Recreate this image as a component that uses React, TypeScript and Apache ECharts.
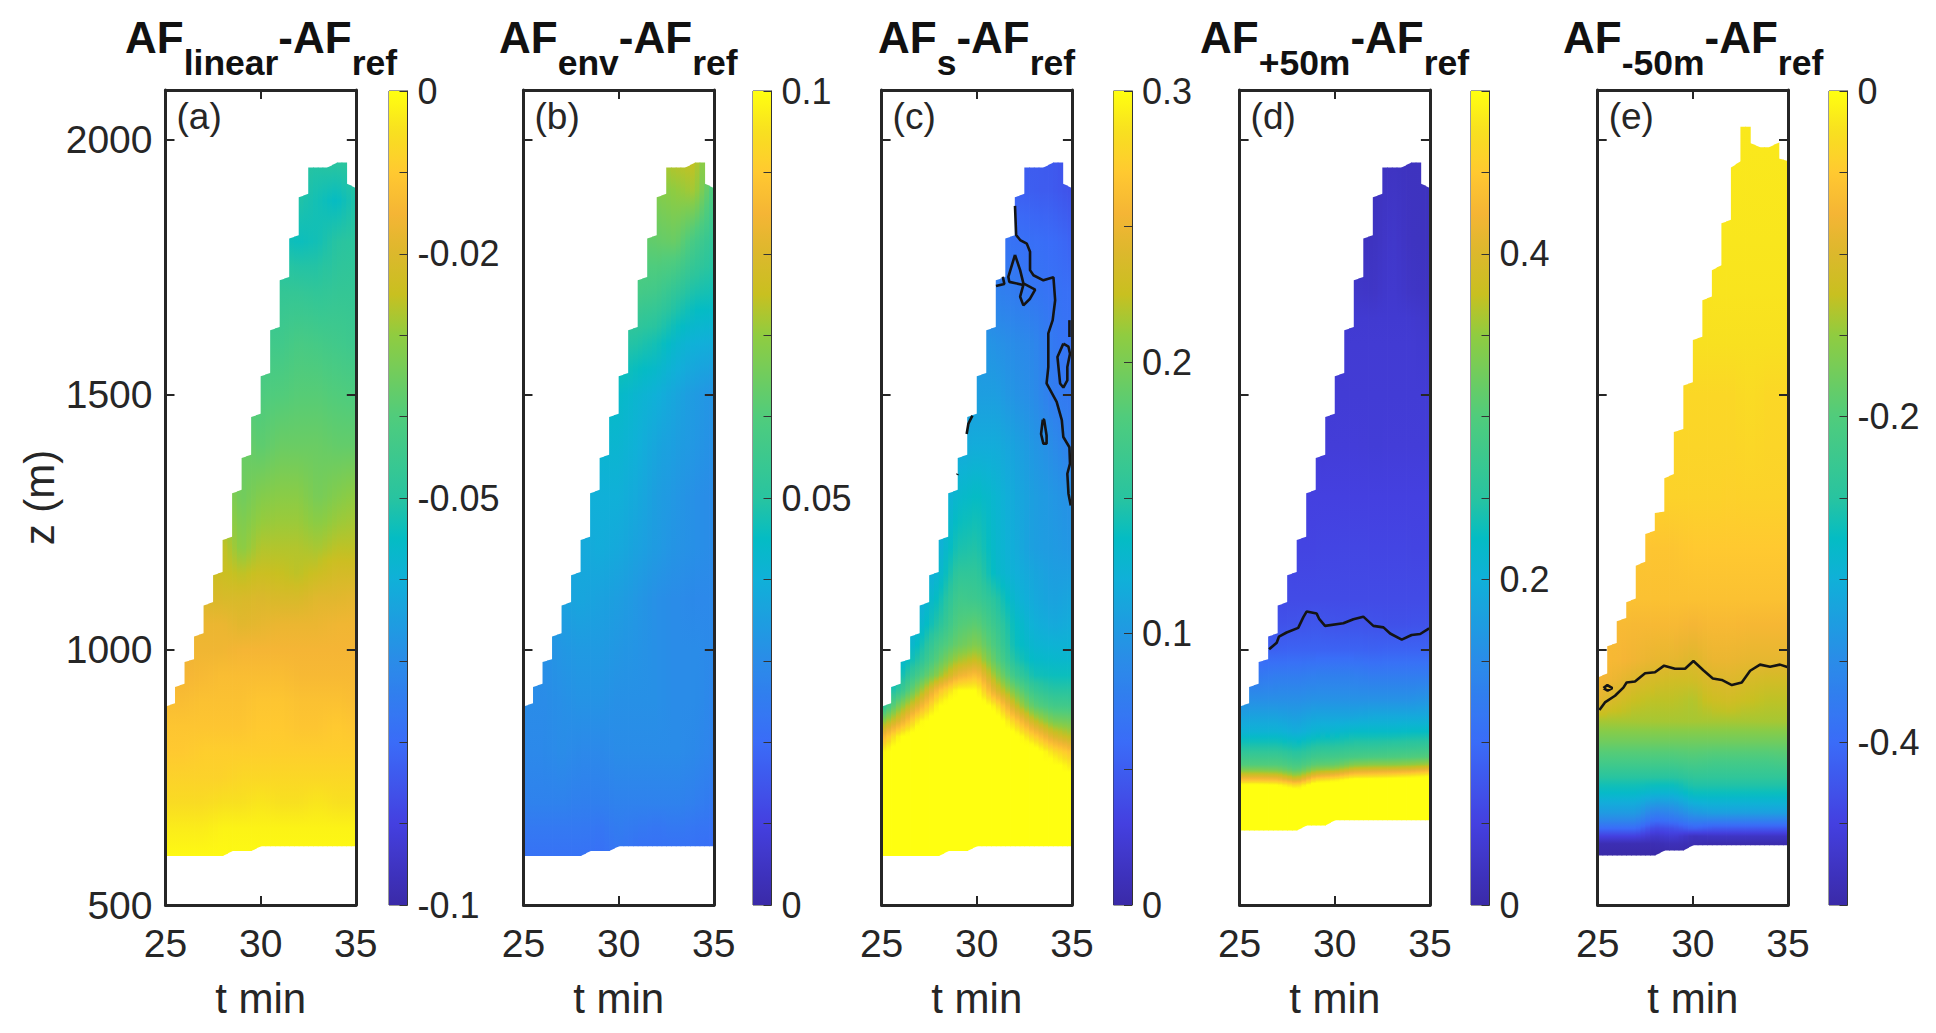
import React, { useEffect, useRef } from "react";
import * as echarts from "echarts";

const T_COLS = [25, 26, 27, 28, 29, 30, 31, 32, 33, 34, 35];
const X_TICKS = [25, 30, 35];
const Y_TICKS = [500, 1000, 1500, 2000];

// ---- top and bottom edges of the sampled region (half-minute columns)
const TOP_L_ABC = [889, 927, 976, 1026, 1087, 1146, 1215, 1307, 1376, 1456, 1536, 1626, 1724, 1806, 1887, 1945, 1945, 1945, 1955, 1914];
const TOP_R_ABC = [896, 934, 982, 1033, 1094, 1153, 1222, 1314, 1383, 1463, 1543, 1633, 1731, 1813, 1894, 1945, 1945, 1955, 1955, 1905];
const TOP_L_E = [946, 1007, 1056, 1093, 1165, 1227, 1268, 1336, 1427, 1518, 1607, 1685, 1744, 1836, 1945, 2025, 1993, 1985, 1985, 1963];
const TOP_R_E = [954, 1014, 1063, 1101, 1173, 1234, 1271, 1345, 1433, 1525, 1614, 1693, 1754, 1843, 1958, 2025, 1985, 1985, 1994, 1958];
const BOT_ABC = [596, 596, 596, 596, 596, 596, 596, 606, 606, 606, 615, 615, 615, 615, 615, 615, 615, 615, 615, 615, 615];
const BOT_D = [646, 646, 646, 646, 646, 646, 646, 656, 656, 656, 666, 666, 666, 666, 666, 666, 666, 666, 666, 666, 666];
const BOT_E = [597, 597, 597, 597, 597, 597, 597, 607, 607, 607, 617, 617, 617, 617, 617, 617, 617, 617, 617, 617, 617];

// ---- panel (a)
const Z_A = [596, 650, 700, 750, 800, 850, 900, 950, 1000, 1050, 1100, 1150, 1200, 1300, 1400, 1500, 1600, 1700, 1800, 1880, 1960];
const V_A = [
  [-0.001, -0.001, -0.001, -0.001, -0.001, -0.001, -0.001, -0.001, -0.001, -0.001, -0.001],
  [-0.003, -0.003, -0.003, -0.002, -0.002, -0.002, -0.002, -0.002, -0.002, -0.002, -0.002],
  [-0.006, -0.006, -0.006, -0.005, -0.005, -0.004, -0.005, -0.005, -0.004, -0.005, -0.005],
  [-0.008, -0.008, -0.008, -0.008, -0.007, -0.007, -0.007, -0.007, -0.007, -0.007, -0.007],
  [-0.01, -0.01, -0.009, -0.009, -0.009, -0.009, -0.009, -0.009, -0.009, -0.009, -0.009],
  [-0.011, -0.011, -0.011, -0.011, -0.011, -0.01, -0.01, -0.011, -0.011, -0.01, -0.011],
  [-0.013, -0.013, -0.012, -0.012, -0.012, -0.011, -0.011, -0.012, -0.012, -0.012, -0.013],
  [-0.015, -0.015, -0.014, -0.013, -0.013, -0.013, -0.013, -0.014, -0.014, -0.014, -0.014],
  [-0.016, -0.016, -0.016, -0.016, -0.015, -0.015, -0.015, -0.015, -0.015, -0.015, -0.015],
  [-0.017, -0.017, -0.017, -0.017, -0.019, -0.018, -0.017, -0.017, -0.017, -0.016, -0.016],
  [-0.02, -0.02, -0.02, -0.021, -0.021, -0.02, -0.021, -0.021, -0.019, -0.019, -0.018],
  [-0.024, -0.024, -0.024, -0.024, -0.026, -0.024, -0.025, -0.026, -0.024, -0.022, -0.022],
  [-0.027, -0.027, -0.026, -0.025, -0.031, -0.027, -0.027, -0.027, -0.028, -0.026, -0.026],
  [-0.03, -0.03, -0.03, -0.03, -0.035, -0.032, -0.031, -0.031, -0.034, -0.032, -0.03],
  [-0.036, -0.036, -0.036, -0.036, -0.036, -0.038, -0.036, -0.036, -0.036, -0.037, -0.037],
  [-0.04, -0.04, -0.04, -0.04, -0.04, -0.041, -0.04, -0.039, -0.039, -0.04, -0.041],
  [-0.044, -0.044, -0.044, -0.044, -0.044, -0.044, -0.044, -0.042, -0.043, -0.044, -0.045],
  [-0.047, -0.047, -0.047, -0.047, -0.047, -0.047, -0.047, -0.047, -0.048, -0.047, -0.047],
  [-0.05, -0.05, -0.05, -0.05, -0.05, -0.05, -0.053, -0.054, -0.053, -0.05, -0.049],
  [-0.051, -0.051, -0.051, -0.051, -0.051, -0.051, -0.051, -0.051, -0.053, -0.055, -0.051],
  [-0.05, -0.05, -0.05, -0.05, -0.05, -0.05, -0.05, -0.05, -0.05, -0.049, -0.049],
];

// ---- panel (b)
const Z_B = [596, 650, 700, 800, 900, 1000, 1100, 1200, 1300, 1400, 1500, 1600, 1700, 1800, 1900, 1960];
const V_B = [
  [0.022, 0.022, 0.022, 0.022, 0.021, 0.023, 0.021, 0.021, 0.021, 0.021, 0.02],
  [0.024, 0.024, 0.024, 0.024, 0.023, 0.025, 0.024, 0.023, 0.024, 0.023, 0.022],
  [0.027, 0.027, 0.027, 0.026, 0.026, 0.027, 0.027, 0.027, 0.027, 0.026, 0.024],
  [0.029, 0.029, 0.03, 0.029, 0.029, 0.03, 0.03, 0.03, 0.03, 0.029, 0.027],
  [0.03, 0.03, 0.031, 0.032, 0.032, 0.031, 0.031, 0.031, 0.03, 0.03, 0.028],
  [0.031, 0.031, 0.033, 0.034, 0.034, 0.033, 0.032, 0.031, 0.03, 0.03, 0.029],
  [0.033, 0.033, 0.036, 0.037, 0.036, 0.035, 0.033, 0.031, 0.03, 0.029, 0.029],
  [0.036, 0.036, 0.037, 0.038, 0.039, 0.038, 0.036, 0.034, 0.032, 0.031, 0.03],
  [0.038, 0.038, 0.038, 0.04, 0.04, 0.04, 0.038, 0.035, 0.033, 0.031, 0.03],
  [0.042, 0.042, 0.042, 0.042, 0.042, 0.042, 0.04, 0.037, 0.035, 0.033, 0.031],
  [0.044, 0.044, 0.044, 0.044, 0.044, 0.044, 0.042, 0.04, 0.037, 0.034, 0.032],
  [0.048, 0.048, 0.048, 0.048, 0.049, 0.05, 0.049, 0.047, 0.043, 0.04, 0.039],
  [0.055, 0.055, 0.055, 0.055, 0.056, 0.056, 0.057, 0.056, 0.052, 0.048, 0.047],
  [0.06, 0.06, 0.06, 0.06, 0.06, 0.06, 0.062, 0.063, 0.064, 0.057, 0.052],
  [0.066, 0.066, 0.066, 0.066, 0.066, 0.066, 0.066, 0.068, 0.07, 0.072, 0.058],
  [0.07, 0.07, 0.07, 0.07, 0.07, 0.07, 0.07, 0.072, 0.074, 0.075, 0.06],
];

// ---- panel (c)
const Z_C = [596, 760, 800, 830, 860, 890, 920, 950, 980, 1010, 1050, 1100, 1150, 1200, 1300, 1400, 1500, 1600, 1700, 1800, 1900, 2000];
const V_C = [
  [0.32, 0.32, 0.32, 0.32, 0.32, 0.32, 0.32, 0.32, 0.32, 0.32, 0.32],
  [0.32, 0.32, 0.32, 0.32, 0.32, 0.32, 0.32, 0.32, 0.32, 0.32, 0.3],
  [0.295, 0.32, 0.32, 0.32, 0.32, 0.32, 0.32, 0.32, 0.315, 0.285, 0.265],
  [0.255, 0.3, 0.32, 0.32, 0.32, 0.32, 0.32, 0.31, 0.275, 0.24, 0.222],
  [0.205, 0.245, 0.295, 0.32, 0.32, 0.32, 0.32, 0.275, 0.228, 0.2, 0.195],
  [0.15, 0.205, 0.25, 0.3, 0.32, 0.32, 0.29, 0.23, 0.186, 0.17, 0.168],
  [0.126, 0.16, 0.21, 0.265, 0.3, 0.3, 0.24, 0.198, 0.162, 0.15, 0.15],
  [0.114, 0.138, 0.174, 0.21, 0.25, 0.265, 0.21, 0.165, 0.141, 0.138, 0.138],
  [0.108, 0.126, 0.15, 0.186, 0.216, 0.228, 0.186, 0.147, 0.132, 0.129, 0.129],
  [0.105, 0.114, 0.138, 0.171, 0.192, 0.204, 0.174, 0.138, 0.126, 0.123, 0.123],
  [0.102, 0.108, 0.126, 0.15, 0.18, 0.186, 0.162, 0.135, 0.12, 0.114, 0.117],
  [0.099, 0.105, 0.117, 0.138, 0.168, 0.165, 0.15, 0.126, 0.114, 0.108, 0.111],
  [0.099, 0.102, 0.111, 0.126, 0.156, 0.156, 0.132, 0.12, 0.111, 0.105, 0.105],
  [0.099, 0.102, 0.108, 0.12, 0.144, 0.147, 0.129, 0.117, 0.105, 0.102, 0.099],
  [0.099, 0.102, 0.105, 0.114, 0.129, 0.135, 0.126, 0.114, 0.105, 0.099, 0.093],
  [0.099, 0.102, 0.105, 0.108, 0.114, 0.117, 0.117, 0.108, 0.099, 0.09, 0.078],
  [0.099, 0.102, 0.105, 0.105, 0.105, 0.105, 0.105, 0.096, 0.09, 0.075, 0.072],
  [0.099, 0.099, 0.099, 0.099, 0.099, 0.099, 0.095, 0.09, 0.085, 0.072, 0.066],
  [0.085, 0.085, 0.085, 0.085, 0.085, 0.085, 0.08, 0.075, 0.07, 0.066, 0.063],
  [0.07, 0.07, 0.07, 0.07, 0.07, 0.07, 0.07, 0.065, 0.063, 0.06, 0.054],
  [0.052, 0.052, 0.052, 0.052, 0.052, 0.052, 0.052, 0.052, 0.05, 0.048, 0.042],
  [0.05, 0.05, 0.05, 0.05, 0.05, 0.05, 0.05, 0.05, 0.048, 0.046, 0.04],
];

// ---- panel (d)
const Z_D = [646, 725, 735, 745, 755, 765, 775, 790, 810, 840, 870, 900, 950, 1000, 1050, 1100, 1200, 1300, 1400, 1500, 1600, 1650, 1700, 1800, 2000];
const V_D = [
  [0.525, 0.525, 0.525, 0.525, 0.525, 0.525, 0.525, 0.525, 0.525, 0.525, 0.525],
  [0.525, 0.525, 0.525, 0.51, 0.525, 0.525, 0.525, 0.525, 0.525, 0.525, 0.525],
  [0.51, 0.51, 0.5, 0.465, 0.525, 0.525, 0.525, 0.525, 0.525, 0.525, 0.525],
  [0.44, 0.44, 0.435, 0.395, 0.47, 0.485, 0.515, 0.515, 0.52, 0.525, 0.525],
  [0.385, 0.385, 0.38, 0.345, 0.405, 0.42, 0.45, 0.455, 0.46, 0.47, 0.485],
  [0.335, 0.335, 0.33, 0.305, 0.35, 0.36, 0.39, 0.395, 0.4, 0.405, 0.42],
  [0.3, 0.3, 0.3, 0.285, 0.31, 0.315, 0.34, 0.345, 0.345, 0.35, 0.36],
  [0.275, 0.275, 0.275, 0.26, 0.28, 0.283, 0.29, 0.293, 0.295, 0.298, 0.303],
  [0.245, 0.245, 0.245, 0.235, 0.25, 0.253, 0.26, 0.26, 0.263, 0.265, 0.268],
  [0.205, 0.205, 0.205, 0.195, 0.21, 0.213, 0.22, 0.22, 0.22, 0.223, 0.225],
  [0.18, 0.18, 0.18, 0.175, 0.185, 0.185, 0.185, 0.19, 0.19, 0.19, 0.19],
  [0.155, 0.155, 0.155, 0.155, 0.16, 0.16, 0.16, 0.16, 0.16, 0.16, 0.165],
  [0.12, 0.12, 0.125, 0.125, 0.13, 0.13, 0.13, 0.125, 0.125, 0.125, 0.125],
  [0.088, 0.088, 0.088, 0.09, 0.09, 0.09, 0.09, 0.088, 0.09, 0.09, 0.09],
  [0.07, 0.07, 0.07, 0.072, 0.075, 0.072, 0.073, 0.071, 0.069, 0.07, 0.07],
  [0.062, 0.062, 0.062, 0.062, 0.062, 0.062, 0.062, 0.062, 0.062, 0.062, 0.062],
  [0.055, 0.055, 0.055, 0.055, 0.055, 0.056, 0.057, 0.056, 0.056, 0.055, 0.055],
  [0.05, 0.05, 0.05, 0.05, 0.05, 0.05, 0.05, 0.05, 0.05, 0.05, 0.05],
  [0.043, 0.043, 0.043, 0.043, 0.043, 0.043, 0.044, 0.042, 0.043, 0.043, 0.042],
  [0.04, 0.04, 0.04, 0.04, 0.04, 0.04, 0.04, 0.04, 0.04, 0.04, 0.04],
  [0.038, 0.038, 0.038, 0.038, 0.038, 0.038, 0.038, 0.038, 0.038, 0.038, 0.034],
  [0.037, 0.037, 0.037, 0.037, 0.037, 0.037, 0.037, 0.036, 0.037, 0.036, 0.028],
  [0.03, 0.03, 0.03, 0.03, 0.03, 0.03, 0.03, 0.027, 0.035, 0.027, 0.024],
  [0.021, 0.021, 0.021, 0.021, 0.021, 0.021, 0.021, 0.021, 0.032, 0.022, 0.021],
  [0.02, 0.02, 0.02, 0.02, 0.02, 0.02, 0.02, 0.02, 0.02, 0.02, 0.02],
];

// ---- panel (e)
const Z_E = [597, 620, 635, 650, 665, 680, 700, 720, 750, 780, 820, 860, 900, 940, 980, 1050, 1100, 1200, 1300, 1400, 1500, 1600, 1700, 1800, 2050];
const V_E = [
  [-0.5, -0.5, -0.5, -0.5, -0.5, -0.5, -0.5, -0.5, -0.5, -0.5, -0.5],
  [-0.49, -0.49, -0.49, -0.49, -0.485, -0.49, -0.495, -0.495, -0.495, -0.495, -0.495],
  [-0.45, -0.45, -0.45, -0.47, -0.46, -0.48, -0.475, -0.475, -0.475, -0.475, -0.475],
  [-0.4, -0.4, -0.4, -0.44, -0.43, -0.41, -0.42, -0.42, -0.42, -0.42, -0.42],
  [-0.36, -0.36, -0.36, -0.4, -0.39, -0.37, -0.37, -0.37, -0.37, -0.37, -0.37],
  [-0.33, -0.33, -0.33, -0.37, -0.36, -0.335, -0.325, -0.325, -0.325, -0.325, -0.325],
  [-0.305, -0.305, -0.305, -0.33, -0.325, -0.3, -0.295, -0.295, -0.295, -0.295, -0.295],
  [-0.28, -0.28, -0.28, -0.29, -0.29, -0.27, -0.27, -0.27, -0.27, -0.27, -0.27],
  [-0.25, -0.25, -0.25, -0.25, -0.25, -0.24, -0.24, -0.24, -0.24, -0.24, -0.24],
  [-0.215, -0.215, -0.215, -0.215, -0.215, -0.21, -0.215, -0.215, -0.215, -0.215, -0.21],
  [-0.175, -0.175, -0.175, -0.175, -0.175, -0.175, -0.175, -0.175, -0.175, -0.175, -0.175],
  [-0.14, -0.14, -0.14, -0.14, -0.14, -0.14, -0.14, -0.14, -0.14, -0.14, -0.14],
  [-0.09, -0.11, -0.125, -0.13, -0.13, -0.135, -0.12, -0.115, -0.125, -0.13, -0.13],
  [-0.075, -0.085, -0.1, -0.11, -0.115, -0.115, -0.102, -0.098, -0.108, -0.113, -0.112],
  [-0.07, -0.072, -0.08, -0.088, -0.09, -0.099, -0.085, -0.085, -0.09, -0.09, -0.09],
  [-0.068, -0.068, -0.07, -0.07, -0.07, -0.075, -0.07, -0.07, -0.072, -0.072, -0.072],
  [-0.06, -0.06, -0.06, -0.06, -0.06, -0.06, -0.06, -0.06, -0.06, -0.06, -0.06],
  [-0.055, -0.055, -0.055, -0.055, -0.055, -0.05, -0.05, -0.05, -0.05, -0.05, -0.05],
  [-0.04, -0.04, -0.04, -0.04, -0.04, -0.04, -0.04, -0.042, -0.04, -0.04, -0.04],
  [-0.037, -0.037, -0.037, -0.037, -0.037, -0.037, -0.037, -0.037, -0.035, -0.037, -0.037],
  [-0.035, -0.035, -0.035, -0.035, -0.035, -0.035, -0.035, -0.035, -0.03, -0.035, -0.035],
  [-0.025, -0.025, -0.025, -0.025, -0.025, -0.025, -0.025, -0.025, -0.025, -0.025, -0.025],
  [-0.022, -0.022, -0.022, -0.022, -0.022, -0.022, -0.022, -0.022, -0.022, -0.022, -0.022],
  [-0.02, -0.02, -0.02, -0.02, -0.02, -0.02, -0.02, -0.02, -0.02, -0.02, -0.02],
  [-0.018, -0.018, -0.018, -0.018, -0.018, -0.018, -0.018, -0.018, -0.018, -0.018, -0.018],
];

// ---- contour lines, as [t, z]
const CONTOURS_C = [
  [[32.01, 1870], [32.07, 1813], [32.28, 1803], [32.63, 1796], [32.8, 1780], [32.8, 1744], [32.98, 1734], [33.5, 1724], [34.03, 1730], [34.12, 1685], [33.99, 1646], [33.76, 1620], [33.76, 1554], [33.67, 1522], [34.2, 1486], [34.47, 1450], [34.55, 1417], [34.87, 1397], [34.9, 1365], [34.76, 1345], [34.82, 1306], [34.94, 1283]],
  [[32.01, 1774], [31.66, 1731], [31.71, 1721], [32.45, 1715], [32.28, 1692], [32.45, 1675], [32.8, 1688], [33.07, 1706], [32.45, 1718], [32.28, 1744], [32.01, 1774]],
  [[31.37, 1731], [31.45, 1717], [31.01, 1713]],
  [[34.55, 1600], [34.24, 1574], [34.38, 1522], [34.55, 1514], [34.76, 1528], [34.76, 1554], [34.9, 1580], [34.82, 1594], [34.55, 1600]],
  [[34.87, 1646], [34.87, 1613]],
  [[33.47, 1451], [33.38, 1423], [33.5, 1404], [33.67, 1404], [33.67, 1420], [33.54, 1451], [33.47, 1451]],
  [[29.77, 1459], [29.56, 1443], [29.47, 1423]],
  [[28.97, 1343], [29.0, 1345]],
];
const CONTOURS_D = [
  [[26.55, 1001], [26.95, 1014], [27.07, 1026], [27.47, 1034], [28.08, 1043], [28.35, 1064], [28.52, 1075], [29.05, 1071], [29.19, 1060], [29.49, 1047], [30.45, 1052], [30.98, 1060], [31.5, 1065], [32.03, 1047], [32.56, 1044], [32.91, 1032], [33.52, 1020], [34.04, 1029], [34.49, 1031], [34.96, 1042]],
];
const CONTOURS_E = [
  [[25.09, 882], [25.38, 897], [25.91, 910], [26.35, 926], [26.52, 936], [26.96, 938], [27.49, 954], [28.01, 956], [28.49, 969], [29.06, 963], [29.59, 963], [30.03, 978], [30.55, 960], [31.05, 944], [31.52, 941], [32.05, 931], [32.57, 936], [33.01, 959], [33.53, 971], [34.06, 967], [34.58, 971], [35, 966]],
  [[25.3, 925], [25.51, 931], [25.77, 925], [25.52, 920], [25.3, 925]],
];

// ---- colour bars
const TICKS_A = [-0.1, -0.09, -0.08, -0.07, -0.06, -0.05, -0.04, -0.03, -0.02, -0.01, 0];
const TICKS_B = [0, 0.01, 0.02, 0.03, 0.04, 0.05, 0.06, 0.07, 0.08, 0.09, 0.1];
const TICKS_C = [0, 0.05, 0.1, 0.15, 0.2, 0.25, 0.3];
const TICKS_D = [0, 0.05, 0.1, 0.15, 0.2, 0.25, 0.3, 0.35, 0.4, 0.45, 0.5];
const TICKS_E = [-0.5, -0.45, -0.4, -0.35, -0.3, -0.25, -0.2, -0.15, -0.1, -0.05, 0];
const LABELS_A = [-0.1, -0.05, -0.02, 0];
const LABELS_B = [0, 0.05, 0.1];
const LABELS_C = [0, 0.1, 0.2, 0.3];
const LABELS_D = [0, 0.2, 0.4];
const LABELS_E = [-0.4, -0.2, 0];

const COLORMAP: [number, number, number, number][] = [
  [0, 0x3a, 0x2a, 0xa8], [0.1, 0x44, 0x40, 0xe0], [0.2, 0x3a, 0x6c, 0xf8], [0.3, 0x2a, 0x8c, 0xe8],
  [0.4, 0x10, 0xb0, 0xd8], [0.45, 0x04, 0xbc, 0xc4], [0.5, 0x28, 0xc4, 0xa0], [0.6, 0x50, 0xcc, 0x7c],
  [0.7, 0x90, 0xcc, 0x40], [0.75, 0xc8, 0xc0, 0x20], [0.8, 0xdc, 0xb8, 0x2c], [0.85, 0xf5, 0xb5, 0x35],
  [0.9, 0xff, 0xc9, 0x30], [0.95, 0xf8, 0xe0, 0x20], [1, 0xff, 0xff, 0x10],
];

const FONT = "Liberation Sans";
const INK = "#262626";

const PANELS = [
  { id: "a", sub: "linear", left: 165.5, titleLeft: 125, barLeft: 389, zs: Z_A, vs: V_A, topL: TOP_L_ABC, topR: TOP_R_ABC, bot: BOT_ABC, lo: -0.1, hi: 0, ticks: TICKS_A, labels: LABELS_A, contours: [] as number[][][] },
  { id: "b", sub: "env", left: 523.5, titleLeft: 499, barLeft: 753, zs: Z_B, vs: V_B, topL: TOP_L_ABC, topR: TOP_R_ABC, bot: BOT_ABC, lo: 0, hi: 0.1, ticks: TICKS_B, labels: LABELS_B, contours: [] as number[][][] },
  { id: "c", sub: "s", left: 881.6, titleLeft: 878, barLeft: 1113.5, zs: Z_C, vs: V_C, topL: TOP_L_ABC, topR: TOP_R_ABC, bot: BOT_ABC, lo: 0, hi: 0.3, ticks: TICKS_C, labels: LABELS_C, contours: CONTOURS_C },
  { id: "d", sub: "+50m", left: 1239.6, titleLeft: 1200, barLeft: 1471, zs: Z_D, vs: V_D, topL: TOP_L_ABC, topR: TOP_R_ABC, bot: BOT_D, lo: 0, hi: 0.5, ticks: TICKS_D, labels: LABELS_D, contours: CONTOURS_D },
  { id: "e", sub: "-50m", left: 1597.7, titleLeft: 1563, barLeft: 1829, zs: Z_E, vs: V_E, topL: TOP_L_E, topR: TOP_R_E, bot: BOT_E, lo: -0.5, hi: 0, ticks: TICKS_E, labels: LABELS_E, contours: CONTOURS_E },
];

const PANEL_W = 190.3;
const PANEL_TOP = 90;
const PANEL_H = 815;
const BAR_W = 18.5;
const Y_MAX = 2097;
const TITLE_MAIN = 44;
const TITLE_SUB = 35.5;

function colorAt(n: number) {
  const x = Math.max(0, Math.min(1, n));
  let i = 0;
  while (i < COLORMAP.length - 2 && x > COLORMAP[i + 1][0]) i++;
  const a = COLORMAP[i];
  const b = COLORMAP[i + 1];
  const f = (x - a[0]) / (b[0] - a[0]);
  const c = [1, 2, 3].map((k) => Math.round(a[k] + (b[k] - a[k]) * f));
  return `rgb(${c[0]},${c[1]},${c[2]})`;
}

// value at a time between table columns, along row r
function rowAt(vs: number[][], r: number, t: number) {
  const u = Math.max(0, Math.min(T_COLS.length - 1.0001, t - T_COLS[0]));
  const i = Math.floor(u);
  return vs[r][i] + (vs[r][i + 1] - vs[r][i]) * (u - i);
}

function makeFieldRender(p: any, cols: number[][]) {
  return (params: any, api: any) => {
    const [t0, t1, k, f0, f1] = cols[params.dataIndex];
    const zb0 = p.bot[k] + (p.bot[k + 1] - p.bot[k]) * f0;
    const zb1 = p.bot[k] + (p.bot[k + 1] - p.bot[k]) * f1;
    const zt0 = p.topL[k] + (p.topR[k] - p.topL[k]) * f0;
    const zt1 = p.topL[k] + (p.topR[k] - p.topL[k]) * f1;
    const zLo = Math.min(zb0, zb1);
    const zHi = Math.max(zt0, zt1);
    const tc = (t0 + t1) / 2;
    const toN = (v: number) => (v - p.lo) / (p.hi - p.lo);
    const stops: { offset: number; color: string }[] = [];
    const add = (z: number, n: number) => {
      if (z < zLo - 1e-6 || z > zHi + 1e-6) return;
      stops.push({ offset: (zHi - z) / (zHi - zLo), color: colorAt(n) });
    };
    const nAtZ = (z: number) => {
      let r = 0;
      while (r < p.zs.length - 2 && z > p.zs[r + 1]) r++;
      const f = Math.max(0, Math.min(1, (z - p.zs[r]) / (p.zs[r + 1] - p.zs[r])));
      return toN(rowAt(p.vs, r, tc) * (1 - f) + rowAt(p.vs, r + 1, tc) * f);
    };
    add(zHi, nAtZ(zHi));
    for (let r = p.zs.length - 2; r >= 0; r--) {
      const a = p.zs[r + 1];
      const b = p.zs[r];
      const na = toN(rowAt(p.vs, r + 1, tc));
      const nb = toN(rowAt(p.vs, r, tc));
      const steps = Math.max(1, Math.ceil(Math.abs(na - nb) / 0.04));
      for (let s = 0; s < steps; s++) {
        const z = a + ((b - a) * s) / steps;
        if (z < zHi && z > zLo) add(z, na + ((nb - na) * s) / steps);
      }
    }
    add(zLo, nAtZ(zLo));
    const overlap = t1 < 34.99 ? 0.8 : 0;
    const pa = api.coord([t0, zb0]);
    const pb = api.coord([t1, zb1]);
    const pc = api.coord([t1, zt1]);
    const pd = api.coord([t0, zt0]);
    return {
      type: "polygon",
      shape: { points: [pa, [pb[0] + overlap, pb[1]], [pc[0] + overlap, pc[1]], pd] },
      style: { fill: new echarts.graphic.LinearGradient(0, 0, 0, 1, stops), stroke: null },
    };
  };
}

function makeBarRender(p: any) {
  return (_: any, api: any) => {
    const tl = api.coord([0, p.hi]);
    const br = api.coord([1, p.lo]);
    const stops = [];
    for (let i = 0; i <= 60; i++) stops.push({ offset: i / 60, color: colorAt(1 - i / 60) });
    return {
      type: "rect",
      shape: { x: tl[0], y: tl[1], width: br[0] - tl[0], height: br[1] - tl[1] },
      style: { fill: new echarts.graphic.LinearGradient(0, 0, 0, 1, stops) },
    };
  };
}

function titleTexts(p: any) {
  const ctx = document.createElement("canvas").getContext("2d")!;
  const parts: [string, boolean][] = [["AF", false], [p.sub, true], ["-AF", false], ["ref", true]];
  let x = p.titleLeft;
  return parts.map(([text, isSub]) => {
    const size = isSub ? TITLE_SUB : TITLE_MAIN;
    ctx.font = `bold ${size}px "${FONT}"`;
    const el = {
      type: "text", x, y: isSub ? 62.5 : 37.5, z: 20, silent: true,
      style: { text, fontFamily: FONT, fontWeight: "bold", fontSize: size, fill: "#111", verticalAlign: "middle", align: "left" },
    };
    x += ctx.measureText(text).width;
    return el;
  });
}

function buildOption() {
  const grid: any[] = [];
  const xAxis: any[] = [];
  const yAxis: any[] = [];
  const series: any[] = [];
  const graphic: any[] = [];

  const tickStyle = { lineStyle: { color: INK, width: 2 } };
  const plain = (v: number) => String(v);

  PANELS.forEach((p, idx) => {
    const g = grid.length;
    grid.push({ left: p.left, top: PANEL_TOP, width: PANEL_W, height: PANEL_H, containLabel: false });
    const xBase = { type: "value", gridIndex: g, min: 25, max: 35, z: 10, splitLine: { show: false }, axisLine: { show: true, onZero: false, lineStyle: { color: INK, width: 3 } } };
    const yBase = { type: "value", gridIndex: g, min: 500, max: Y_MAX, z: 10, splitLine: { show: false }, axisLine: { show: true, onZero: false, lineStyle: { color: INK, width: 3 } } };
    const xi = xAxis.length;
    xAxis.push({
      ...xBase, position: "bottom",
      name: "t min", nameLocation: "middle", nameGap: 72,
      nameTextStyle: { fontFamily: FONT, fontSize: 42, color: INK },
      axisTick: { show: true, inside: true, length: 9, customValues: X_TICKS, ...tickStyle },
      axisLabel: { show: true, customValues: X_TICKS, margin: 19, fontFamily: FONT, fontSize: 39, color: INK, hideOverlap: false, formatter: plain },
    });
    xAxis.push({ ...xBase, position: "top", axisTick: { show: true, inside: true, length: 9, customValues: X_TICKS, ...tickStyle }, axisLabel: { show: false } });
    const yi = yAxis.length;
    yAxis.push({
      ...yBase, position: "left",
      ...(idx === 0 ? { name: "z (m)", nameLocation: "middle", nameGap: 105, nameTextStyle: { fontFamily: FONT, fontSize: 42, color: INK } } : {}),
      axisTick: { show: true, inside: true, length: 9, customValues: Y_TICKS, ...tickStyle },
      axisLabel: idx === 0
        ? { show: true, customValues: Y_TICKS, margin: 13, fontFamily: FONT, fontSize: 39, color: INK, formatter: plain }
        : { show: false },
    });
    yAxis.push({ ...yBase, position: "right", axisTick: { show: true, inside: true, length: 9, customValues: Y_TICKS, ...tickStyle }, axisLabel: { show: false } });

    // field: one gradient column per quarter minute, drawn through the axes
    const cols: number[][] = [];
    for (let k = 0; k < p.topL.length; k++) {
      const tk = 25 + k * 0.5;
      cols.push([tk, tk + 0.25, k, 0, 0.5]);
      cols.push([tk + 0.25, tk + 0.5, k, 0.5, 1]);
    }
    series.push({
      id: `field-${p.id}`, type: "custom", xAxisIndex: xi, yAxisIndex: yi, z: 2, clip: true, silent: true,
      coordinateSystem: "cartesian2d", data: cols, encode: { x: [0, 1] },
      renderItem: makeFieldRender(p, cols),
    });

    p.contours.forEach((line, li) => {
      series.push({
        id: `contour-${p.id}-${li}`, type: "line", xAxisIndex: xi, yAxisIndex: yi, z: 5, data: line,
        showSymbol: false, symbol: "none", silent: true, clip: true,
        lineStyle: { color: "#141414", width: 2.6 },
      });
    });

    // colour bar
    const gb = grid.length;
    grid.push({ left: p.barLeft, top: PANEL_TOP + 1, width: BAR_W, height: PANEL_H - 1, show: true, borderColor: "#333", borderWidth: 1, backgroundColor: "transparent" });
    const bx = xAxis.length;
    xAxis.push({ type: "value", gridIndex: gb, min: 0, max: 1, show: false });
    const by = yAxis.length;
    yAxis.push({
      type: "value", gridIndex: gb, min: p.lo, max: p.hi, position: "right", z: 10,
      splitLine: { show: false },
      axisLine: { show: true, onZero: false, lineStyle: { color: "#333", width: 1 } },
      axisTick: { show: true, inside: true, length: 8, customValues: p.ticks, lineStyle: { color: "#333", width: 1 } },
      axisLabel: { show: true, customValues: p.labels, margin: 10, padding: [9, 0, 0, 0], fontFamily: FONT, fontSize: 36, color: INK, formatter: plain },
    });
    series.push({
      id: `bar-${p.id}`, type: "custom", xAxisIndex: bx, yAxisIndex: by, z: 2, silent: true,
      coordinateSystem: "cartesian2d", data: [[0, p.lo]], renderItem: makeBarRender(p),
    });

    graphic.push(...titleTexts(p));
    graphic.push({
      type: "text", x: p.left + 11, y: 116, z: 20, silent: true,
      style: { text: `(${p.id})`, fontFamily: FONT, fontSize: 37, fill: INK, verticalAlign: "middle", align: "left" },
    });
  });

  return { animation: false, backgroundColor: "#fff", tooltip: { show: false }, grid, xAxis, yAxis, series, graphic };
}

export default function App() {
  const ref = useRef<HTMLDivElement>(null);
  useEffect(() => {
    document.body.style.margin = "0";
    const chart = echarts.init(ref.current!, undefined, { renderer: "svg" });
    chart.setOption(buildOption() as any);
    return () => chart.dispose();
  }, []);
  return <div ref={ref} style={{ width: 1936, height: 1033, background: "#fff" }} />;
}
